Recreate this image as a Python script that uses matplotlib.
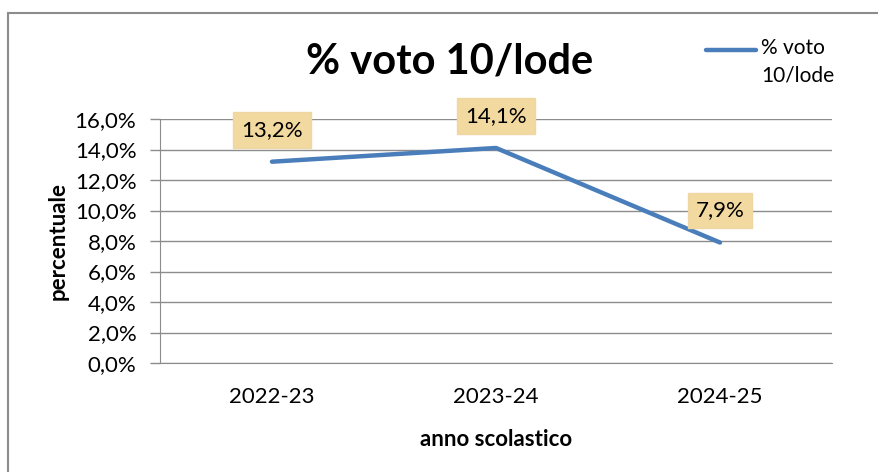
import matplotlib.pyplot as plt
from matplotlib.lines import Line2D
from matplotlib.patches import Rectangle
from matplotlib.ticker import FuncFormatter

plt.rcParams['font.family'] = ['Lato', 'DejaVu Sans']

# Data
anni = ['2022-23', '2023-24', '2024-25']
voto_lode = [13.2, 14.1, 7.9]
y_ticks = [0, 2, 4, 6, 8, 10, 12, 14, 16]
serie = '% voto\n10/lode'

blu = '#4A7EBB'
grigio = '#8c8c8c'

fig = plt.figure(figsize=(8.79, 4.72), dpi=100)

# grey frame around the chart area
fig.patches.append(Rectangle((8 / 879, -0.1), 1.0, (472 - 13) / 472 + 0.1,
                             transform=fig.transFigure, fill=False,
                             edgecolor=grigio, linewidth=1.5))

ax = fig.add_axes([160 / 879, 109 / 472, 672 / 879, 244 / 472])

x = range(len(anni))
ax.plot(x, voto_lode, color=blu, linewidth=3.2, solid_capstyle='round')

ax.set_xlim(-0.5, len(anni) - 0.5)
ax.set_ylim(0, 16)
ax.set_yticks(y_ticks)
ax.yaxis.set_major_formatter(FuncFormatter(lambda v, p: f'{v:.1f}%'.replace('.', ',')))
ax.set_xticks(list(x))
ax.set_xticklabels(anni)
ax.tick_params(axis='x', length=0, pad=17, labelsize=16)
ax.tick_params(axis='y', length=7, width=1, color=grigio, labelsize=16, pad=10)

ax.grid(axis='y', color=grigio, linewidth=1)
ax.set_axisbelow(True)
for s in ['top', 'right']:
    ax.spines[s].set_visible(False)
ax.spines['left'].set_color(grigio)
ax.spines['bottom'].set_color(grigio)
ax.spines['bottom'].set_bounds(-0.5, len(anni) - 0.5)

# data labels
for xi, v in zip(x, voto_lode):
    ax.annotate(f'{v:.1f}%'.replace('.', ','), (xi, v), xytext=(0, 23),
                textcoords='offset points', ha='center', va='center', fontsize=16,
                bbox=dict(boxstyle='square,pad=0.35', facecolor='#F2D9A0',
                          edgecolor='#EFD7A4'))

ax.set_ylabel('percentuale', fontsize=16, fontweight='bold', labelpad=4)
ax.set_xlabel('anno scolastico', fontsize=16, fontweight='bold', labelpad=16)

fig.text(450 / 879, 1 - 62 / 472, '% voto 10/lode', ha='center', va='center',
         fontsize=30, fontweight='bold')

# legend: sample line next to the first line of the series name
fig.lines.append(Line2D([706 / 879, 756 / 879], [1 - 50 / 472] * 2,
                        transform=fig.transFigure, color=blu, linewidth=3.2,
                        solid_capstyle='round'))
fig.text(761 / 879, 1 - 38 / 472, serie, ha='left', va='top', fontsize=15,
         linespacing=1.45)

fig.savefig('out.png', dpi=100)
